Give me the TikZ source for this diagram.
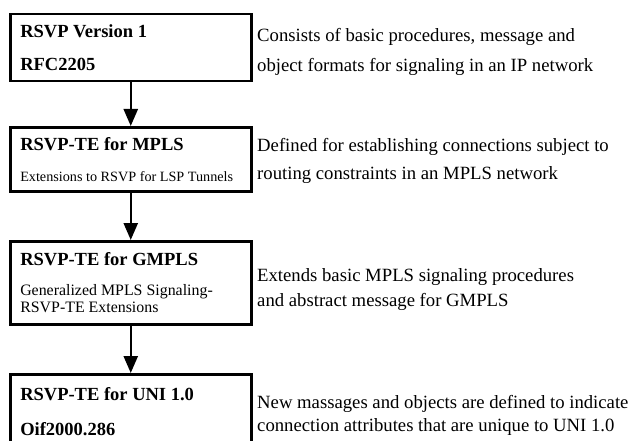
\documentclass[tikz,border=0pt]{standalone}
\usepackage{fontspec}
\setmainfont{Liberation Serif}
\usetikzlibrary{arrows.meta}
\newcommand{\bxtitle}{\fontsize{18.5}{23}\selectfont\bfseries}
\newcommand{\bxsmall}[1]{\fontsize{#1}{17}\selectfont\mdseries}
\newcommand{\rtext}{\fontsize{18.7}{22}\selectfont}

\begin{document}
\begin{tikzpicture}[x=1pt,y=-1pt,
    stagebox/.style={draw, line width=2.5pt, minimum width=241pt, text width=221pt,
      inner xsep=10pt, align=flush left, anchor=north west, font=\bxtitle},
    note/.style={anchor=west, align=left, inner sep=0pt, font=\rtext},
    flow/.style={line width=2.5pt, -{Triangle[length=17pt,width=14pt]}}]
    \useasboundingbox (0,0) rectangle (631,441);
    \clip (0,0) rectangle (631,441);
    % protocol stages
    \node [stagebox, minimum height=67pt] (rsvp) at (9,13)
      {RSVP Version 1\\[10pt] RFC2205};
    \node [stagebox, minimum height=64pt] (mpls) at (9,126)
      {RSVP-TE for MPLS\\[8pt] \mbox{\bxsmall{14.2}Extensions to RSVP for LSP Tunnels}};
    \node [stagebox, minimum height=83pt] (gmpls) at (9,240)
      {RSVP-TE for GMPLS\\[7pt] \mbox{\bxsmall{15.9}Generalized MPLS Signaling-}\\[-6pt]
       \mbox{\bxsmall{15.9}RSVP-TE Extensions}};
    \node [stagebox, minimum height=75pt] (uni) at (9,373)
      {RSVP-TE for UNI 1.0\\[12pt] Oif2000.286};
    % arrows
    \draw [flow] (rsvp) -- (mpls);
    \draw [flow] (mpls) -- (gmpls);
    \draw [flow] (gmpls) -- (uni);
    % descriptions
    \node [note] (rsvpnote) at (257,52)
      {Consists of basic procedures, message and\\[8pt]
       object formats for signaling in an IP network};
    \node [note] (mplsnote) at (257,161)
      {Defined for establishing connections subject to\\[6pt]
       routing constraints in an MPLS network};
    \node [note] (gmplsnote) at (257,290)
      {Extends basic MPLS signaling procedures\\[3pt]
       and abstract message for GMPLS};
    \node [note] (uninote) at (257,415.5)
      {New massages and objects are defined to indicate\\[1pt]
       connection attributes that are unique to UNI 1.0};
\end{tikzpicture}
\end{document}
